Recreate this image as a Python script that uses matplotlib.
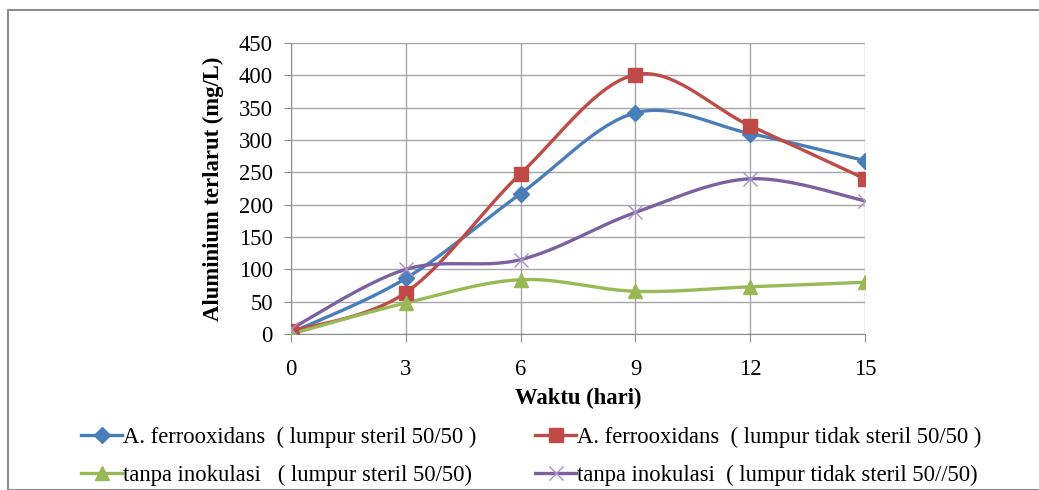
import matplotlib
matplotlib.use("Agg")
import matplotlib.pyplot as plt
import numpy as np
from matplotlib.lines import Line2D
from matplotlib.patches import Rectangle

# Data
days = [0, 3, 6, 9, 12, 15]
af_steril = [2, 86, 217, 342, 310, 268]
af_tidak_steril = [4, 64, 248, 401, 322, 240]
tanpa_steril = [0, 48, 84, 66, 73, 80]
tanpa_tidak_steril = [8, 100, 115, 188, 240, 206]

labels = [
    "A. ferrooxidans  ( lumpur steril 50/50 )",
    "A. ferrooxidans  ( lumpur tidak steril 50/50 )",
    "tanpa inokulasi   ( lumpur steril 50/50)",
    "tanpa inokulasi  ( lumpur tidak steril 50//50)",
]
colors = ["#4A7EBB", "#BE4B48", "#98B954", "#7D60A0"]
markers = ["D", "s", "^", "x"]
msizes = [8, 10, 10, 10]

plt.rcParams["font.family"] = ["Liberation Serif", "DejaVu Serif"]
FS = 16.3


def smooth(x, y, n=40):
    """Excel-style smoothed line (Catmull-Rom as cubic Bezier)."""
    p = np.column_stack([x, y]).astype(float)
    ext = np.vstack([p[0], p, p[-1]])
    out = []
    t = np.linspace(0, 1, n)[:, None]
    for i in range(len(p) - 1):
        p0, p1, p2, p3 = ext[i], ext[i + 1], ext[i + 2], ext[i + 3]
        c1 = p1 + (p2 - p0) / 6
        c2 = p2 - (p3 - p1) / 6
        seg = ((1 - t) ** 3) * p1 + 3 * ((1 - t) ** 2) * t * c1 \
            + 3 * (1 - t) * t ** 2 * c2 + t ** 3 * p2
        out.append(seg)
    s = np.vstack(out)
    return s[:, 0], s[:, 1]


fig = plt.figure(figsize=(10.39, 4.9), dpi=100)
fig.patches.append(Rectangle((8 / 1039, 0), 1.1, 1 - 10 / 490,
                             transform=fig.transFigure, fill=False,
                             edgecolor="#8c8c8c", linewidth=1.5))
ax = fig.add_axes([291 / 1039, 1 - 334 / 490, 574 / 1039, 291 / 490])

series = [af_steril, af_tidak_steril, tanpa_steril, tanpa_tidak_steril]
handles = []
for vals, c, m, ms, lab in zip(series, colors, markers, msizes, labels):
    sx, sy = smooth(days, vals)
    ax.plot(sx, sy, color=c, linewidth=2.4, solid_capstyle="round", zorder=3)
    if m == "x":
        ax.plot(days, vals, linestyle="none", marker=m, markersize=ms,
                color="#a990c8", markeredgewidth=1.0, zorder=4)
    else:
        ax.plot(days, vals, linestyle="none", marker=m, markersize=ms,
                color=c, markeredgecolor=c, zorder=4)
    handles.append(Line2D([], [], color=c, linewidth=2.4, marker=m,
                          markersize=ms, markeredgewidth=1.0 if m == "x" else 1,
                          markeredgecolor="#a990c8" if m == "x" else c,
                          label=lab))

ax.set_xlim(0, 15)
ax.set_ylim(0, 450)
ax.set_xticks(days)
ax.set_yticks(range(0, 451, 50))
ax.grid(True, color="#a6a6a6", linewidth=1.0)
ax.set_axisbelow(True)
for s in ["top", "right"]:
    ax.spines[s].set_visible(False)
for s in ["left", "bottom"]:
    ax.spines[s].set_color("#8c8c8c")
ax.tick_params(axis="x", direction="out", length=6, color="#8c8c8c",
               labelsize=FS, pad=12)
ax.tick_params(axis="y", direction="out", length=5, color="#8c8c8c",
               labelsize=FS, pad=8)
ax.set_xlabel("Waktu (hari)", fontsize=FS, fontweight="bold")
ax.xaxis.label.set_va("center")
ax.xaxis.set_label_coords(0.5, -0.223)
ax.set_ylabel("Aluminium terlarut (mg/L)", fontsize=FS, fontweight="bold")
ax.yaxis.label.set_va("center")
ax.yaxis.set_label_coords(-0.136, 0.5)

# legend fills column-first, so reorder to get the rows of the original
order = [0, 2, 1, 3]
fig.legend(handles=[handles[i] for i in order], ncol=2, loc="upper left",
           bbox_to_anchor=(81 / 1039, 1 - 427 / 490), frameon=False,
           fontsize=FS, handlelength=1.82, handletextpad=0.05,
           columnspacing=2.58, labelspacing=0.72, borderpad=0,
           borderaxespad=0)

fig.savefig("out.png", dpi=100, facecolor="white")
